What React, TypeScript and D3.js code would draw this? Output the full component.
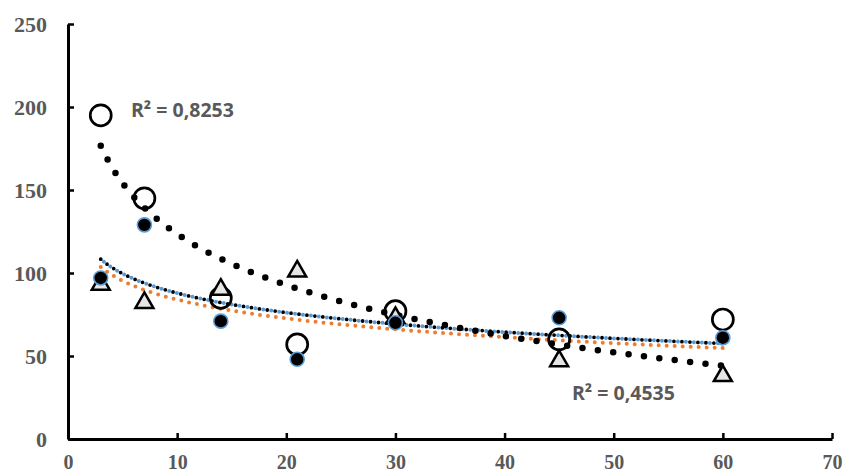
import { useEffect, useRef } from "react";
import * as d3 from "d3";

// days of measurement
const days = [3, 7, 14, 21, 30, 45, 60];
// series
const openCircles = [195, 145, 85, 57, 77, 60, 72];
const filledCircles = [97, 129, 71, 48, 70, 73, 61];
const triangles = [93, 82, 90, 101, 73, 47, 38];

const xTicks = [0, 10, 20, 30, 40, 50, 60, 70];
const yTicks = [0, 50, 100, 150, 200, 250];

const r2Labels = ["R² = 0,8253", "R² = 0,4535"];

// least squares fit of y = a + b ln(x), like an Excel log trendline
function logFit(xs: number[], ys: number[]) {
  const lx = xs.map((v) => Math.log(v));
  const mx = d3.mean(lx) as number;
  const my = d3.mean(ys) as number;
  let sxy = 0;
  let sxx = 0;
  lx.forEach((v, i) => {
    sxy += (v - mx) * (ys[i] - my);
    sxx += (v - mx) * (v - mx);
  });
  const b = sxy / sxx;
  const a = my - b * mx;
  return (x: number) => a + b * Math.log(x);
}

export default function App() {
  const ref = useRef<SVGSVGElement | null>(null);
  const width = 846;
  const height = 476;

  useEffect(() => {
    const svg = d3.select(ref.current);
    svg.selectAll("*").remove();

    const x = d3.scaleLinear().domain([0, 70]).range([68, 832]);
    const y = d3.scaleLinear().domain([0, 250]).range([439, 24]);

    const grey = "#595959";

    // axes
    const xAxis = svg
      .append("g")
      .attr("transform", `translate(0,${y(0)})`)
      .call(d3.axisBottom(x).tickValues(xTicks).tickSizeInner(-6).tickSizeOuter(0).tickPadding(16));
    xAxis.select(".domain").attr("stroke", "#000").attr("stroke-width", 3);
    xAxis.selectAll("line").attr("stroke", "#000").attr("stroke-width", 2.5);
    xAxis
      .selectAll("text")
      .attr("fill", grey)
      .attr("font-family", "'Liberation Serif', 'Times New Roman', serif")
      .attr("font-weight", "bold")
      .attr("font-size", 20);

    const yAxis = svg
      .append("g")
      .attr("transform", `translate(${x(0)},0)`)
      .call(d3.axisLeft(y).tickValues(yTicks).tickSizeInner(-6).tickSizeOuter(0).tickPadding(21));
    yAxis.select(".domain").attr("stroke", "#000").attr("stroke-width", 3);
    yAxis.selectAll("line").attr("stroke", "#000").attr("stroke-width", 2.5);
    yAxis
      .selectAll("text")
      .attr("fill", grey)
      .attr("font-family", "'Liberation Serif', 'Times New Roman', serif")
      .attr("font-weight", "bold")
      .attr("font-size", 22);

    // trendlines
    const xs = d3.range(days[0], days[days.length - 1] + 0.01, 0.25);
    const curve = (f: (v: number) => number) =>
      d3
        .line<number>()
        .x((d) => x(d))
        .y((d) => y(f(d)))(xs);

    const fOpen = logFit(days, openCircles);
    const fFilled = logFit(days, filledCircles);
    const fTri = logFit(days, triangles);

    svg
      .append("path")
      .attr("d", curve(fTri))
      .attr("fill", "none")
      .attr("stroke", "#ED7D31")
      .attr("stroke-width", 4)
      .attr("stroke-linecap", "round")
      .attr("stroke-dasharray", "0 8");

    svg
      .append("path")
      .attr("d", curve(fFilled))
      .attr("fill", "none")
      .attr("stroke", "#5B9BD5")
      .attr("stroke-width", 4)
      .attr("stroke-linecap", "round")
      .attr("stroke-dasharray", "0 8")
      .attr("stroke-dashoffset", 4);

    svg
      .append("path")
      .attr("d", curve(fFilled))
      .attr("fill", "none")
      .attr("stroke", "#000")
      .attr("stroke-width", 3.8)
      .attr("stroke-linecap", "round")
      .attr("stroke-dasharray", "0 8");

    svg
      .append("path")
      .attr("d", curve(fOpen))
      .attr("fill", "none")
      .attr("stroke", "#000")
      .attr("stroke-width", 6.5)
      .attr("stroke-linecap", "round")
      .attr("stroke-dasharray", "0 15.5");

    // markers
    svg
      .append("g")
      .selectAll("circle")
      .data(openCircles)
      .join("circle")
      .attr("cx", (_, i) => x(days[i]))
      .attr("cy", (d) => y(d))
      .attr("r", 10.5)
      .attr("fill", "none")
      .attr("stroke", "#000")
      .attr("stroke-width", 2.7);

    const tri = d3.symbol().type(d3.symbolTriangle).size(140);
    svg
      .append("g")
      .selectAll("path")
      .data(triangles)
      .join("path")
      .attr("d", tri)
      .attr("transform", (d, i) => `translate(${x(days[i])},${y(d)})`)
      .attr("fill", "#E7E6E6")
      .attr("stroke", "#000")
      .attr("stroke-width", 2.5);

    svg
      .append("g")
      .selectAll("circle")
      .data(filledCircles)
      .join("circle")
      .attr("cx", (_, i) => x(days[i]))
      .attr("cy", (d) => y(d))
      .attr("r", 7)
      .attr("fill", "#000")
      .attr("stroke", "#5B9BD5")
      .attr("stroke-width", 1.6);

    // R² labels
    const labelPos = [
      [131, 117],
      [572, 400],
    ];
    r2Labels.forEach((t, i) => {
      svg
        .append("text")
        .attr("x", labelPos[i][0])
        .attr("y", labelPos[i][1])
        .attr("fill", grey)
        .attr("font-family", "'Open Sans', sans-serif")
        .attr("font-weight", "bold")
        .attr("font-size", 19.5)
        .text(t);
    });
  }, []);

  return (
    <div style={{ position: "absolute", left: 0, top: 0 }}>
      <svg ref={ref} width={width} height={height} style={{ display: "block", background: "#fff" }} />
    </div>
  );
}
